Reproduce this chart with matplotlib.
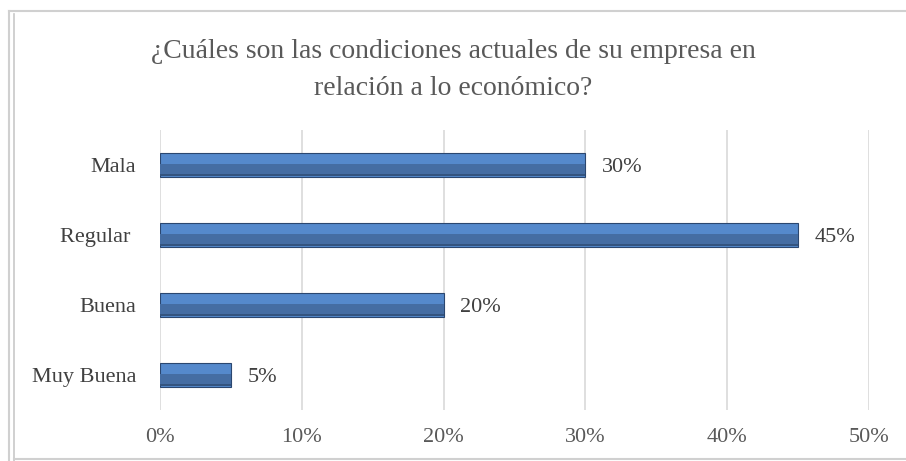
import matplotlib.pyplot as plt
from matplotlib.lines import Line2D

categories = ["Muy Buena", "Buena", "Regular ", "Mala"]
values = [5, 20, 45, 30]
xticks = [0, 10, 20, 30, 40, 50]
title = "¿Cuáles son las condiciones actuales de su empresa en\nrelación a lo económico?"

plt.rcParams['font.family'] = ['Liberation Serif', 'DejaVu Serif']
gray = "#595959"

W, H = 906, 461
fig = plt.figure(figsize=(W / 100, H / 100), dpi=100)
ax = fig.add_axes([160 / W, 1 - 410 / H, 709 / W, 280 / H])

y = list(range(len(categories)))
bh = 0.34
# bar body plus darker lower half to mimic the bevel
ax.barh(y, values, height=bh, color="#5589CC", edgecolor="#2B4770", linewidth=0.8, zorder=3)
ax.barh([v - bh * 0.2 for v in y], values, height=bh * 0.5, color="#456DA3", linewidth=0, zorder=4)
ax.barh([v - bh * 0.41 for v in y], values, height=bh * 0.1, color="#34547F", linewidth=0, zorder=4)

for yi, v in zip(y, values):
    ax.annotate(f"{v}%", (v, yi), xytext=(12, 0), textcoords="offset points",
                va="center_baseline", ha="left", fontsize=16, color="#404040")

ax.set_xlim(0, 50)
ax.set_ylim(-0.5, len(categories) - 0.5)
ax.set_xticks(xticks)
ax.set_xticklabels([f"{t}%" for t in xticks], fontsize=16, color=gray)
ax.set_yticks(y)
ax.set_yticklabels(categories, fontsize=16, color="#404040", va="center_baseline")
ax.tick_params(length=0)
ax.tick_params(axis='x', pad=13)
ax.tick_params(axis='y', pad=17)
ax.grid(axis='x', color="#D9D9D9", linewidth=1.2, zorder=0)
for s in ax.spines.values():
    s.set_visible(False)

fig.text(0.5, 1 - 70 / H, title, ha="center", va="center", fontsize=20, color=gray, linespacing=1.65)

# chart border (top, double left, bottom)
def fline(xs, ys, c="#D0D0D0", lw=1.5):
    fig.add_artist(Line2D([x / W for x in xs], [1 - v / H for v in ys], color=c, linewidth=lw))

fline([9, W], [11, 11])
fline([9, 9], [11, H])
fline([14, 14], [14, H], c="#C8C8C8", lw=1.2)
fline([14, W], [459, 459])

fig.savefig("out.png", dpi=100)
